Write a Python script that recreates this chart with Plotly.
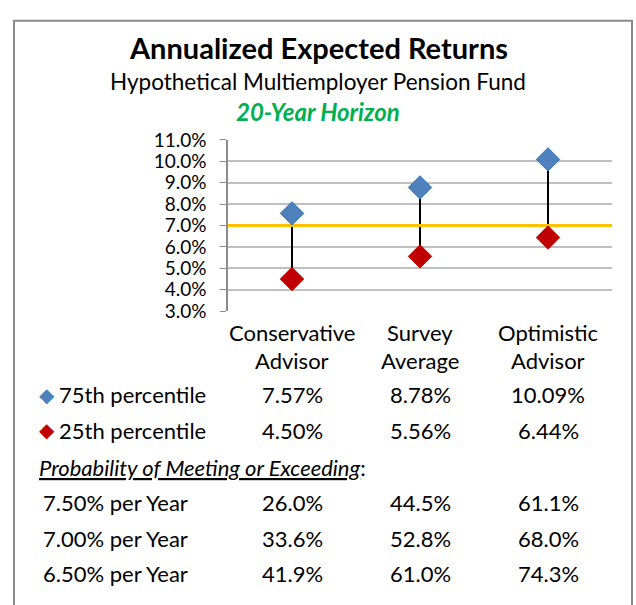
import plotly.graph_objects as go

# ---- data ----
categories = [["Conservative", "Advisor"], ["Survey", "Average"], ["Optimistic", "Advisor"]]
p75 = [0.0757, 0.0878, 0.1009]
p25 = [0.0450, 0.0556, 0.0644]
target = 0.07
row_labels = ["7.50% per Year", "7.00% per Year", "6.50% per Year"]
prob_rows = [
    ["26.0%", "44.5%", "61.1%"],
    ["33.6%", "52.8%", "68.0%"],
    ["41.9%", "61.0%", "74.3%"],
]
p75_text = ["7.57%", "8.78%", "10.09%"]
p25_text = ["4.50%", "5.56%", "6.44%"]

FONT = "Lato"
W, H = 636, 605
BLUE = "#4F81BD"
RED = "#C00000"
GREEN = "#00B050"
TXT = 22

def py(pix):
    return 1 - pix / H

def px(pix):
    return pix / W

xs = list(range(len(categories)))

fig = go.Figure()

# high-low connector lines
lx, ly = [], []
for i in xs:
    lx += [i, i, None]
    ly += [p25[i], p75[i], None]
fig.add_trace(go.Scatter(x=lx, y=ly, mode="lines", line=dict(color="black", width=2),
                         hoverinfo="skip", showlegend=False))

# target line
fig.add_trace(go.Scatter(x=[-0.56, 2.5], y=[target, target], mode="lines",
                         line=dict(color="#FFC000", width=3), hoverinfo="skip",
                         showlegend=False, cliponaxis=False))

fig.add_trace(go.Scatter(x=xs, y=p75, mode="markers", name="75th percentile",
                         marker=dict(symbol="diamond", size=18, color=BLUE,
                                     line=dict(color="#2E75B6", width=1)),
                         showlegend=False))
fig.add_trace(go.Scatter(x=xs, y=p25, mode="markers", name="25th percentile",
                         marker=dict(symbol="diamond", size=18, color=RED,
                                     line=dict(color=RED, width=1)),
                         showlegend=False))

fig.update_xaxes(domain=[px(228), px(612)], range=[-0.5, 2.5],
                 tickvals=xs, showticklabels=False,
                 showgrid=False, showline=False, zeroline=False, ticks="")
fig.update_yaxes(domain=[py(311), py(133)], range=[0.03, 0.11], dtick=0.01,
                 tickformat=".1%", tickfont=dict(family=FONT, size=19, color="black"),
                 ticklabelstandoff=10,
                 showgrid=True, gridcolor="#C0C0C0", gridwidth=1.5,
                 showline=True, linecolor="#8C8C8C", linewidth=1.5,
                 ticks="outside", ticklen=6, tickcolor="#8C8C8C",
                 zeroline=False)

def note(text, x, y, size, color="black", xref="paper", xanchor="center", family=FONT):
    return dict(text=text, x=x, y=y, xref=xref, yref="paper", xanchor=xanchor,
                yanchor="middle", showarrow=False,
                font=dict(family=family, size=size, color=color))

ann = []
ann.append(note("<b>Annualized Expected Returns</b>", 0.5, py(37), 29))
ann.append(note("Hypothetical Multiemployer Pension Fund", 0.5, py(72), 22.5))
ann.append(note("<b><i>20-Year Horizon</i></b>", 0.5, py(103), 24, GREEN))

# category labels
for i, (l1, l2) in enumerate(categories):
    ann.append(note(l1, i, py(333), TXT, xref="x"))
    ann.append(note(l2, i, py(362), TXT, xref="x"))

# table rows
rows_y = [398, 435, 473, 510, 547, 584]
for sym_color, label, vals, yy in [(BLUE, "75th percentile", p75_text, rows_y[0]),
                                   (RED, "25th percentile", p25_text, rows_y[1])]:
    ann.append(note("◆", px(47), py(yy), 20, sym_color, family="DejaVu Sans"))
    ann.append(note(label, px(57), py(yy), TXT, xanchor="left"))
    for i, v in enumerate(vals):
        ann.append(note(v, i, py(yy), TXT, xref="x"))

ann.append(note("<i><span style='text-decoration:underline'>Probability of Meeting or Exceeding</span></i>:",
                px(37), py(rows_y[2]), TXT, xanchor="left"))

for r, (label, vals) in enumerate(zip(row_labels, prob_rows)):
    yy = rows_y[3 + r]
    ann.append(note(label, px(41), py(yy), TXT, xanchor="left"))
    for i, v in enumerate(vals):
        ann.append(note(v, i, py(yy), TXT, xref="x"))

shapes = [dict(type="rect", xref="paper", yref="paper", x0=px(14), x1=px(632), y0=py(620), y1=py(9),
               line=dict(color="#8A8A8A", width=2), fillcolor="rgba(0,0,0,0)", layer="above")]

fig.update_layout(width=W, height=H, margin=dict(l=0, r=0, t=0, b=0),
                  paper_bgcolor="white", plot_bgcolor="white",
                  annotations=ann, shapes=shapes, showlegend=False)

fig.write_html("out.html", config={"displayModeBar": False},
               post_script="document.body.style.margin='0';document.body.style.overflow='hidden';")
